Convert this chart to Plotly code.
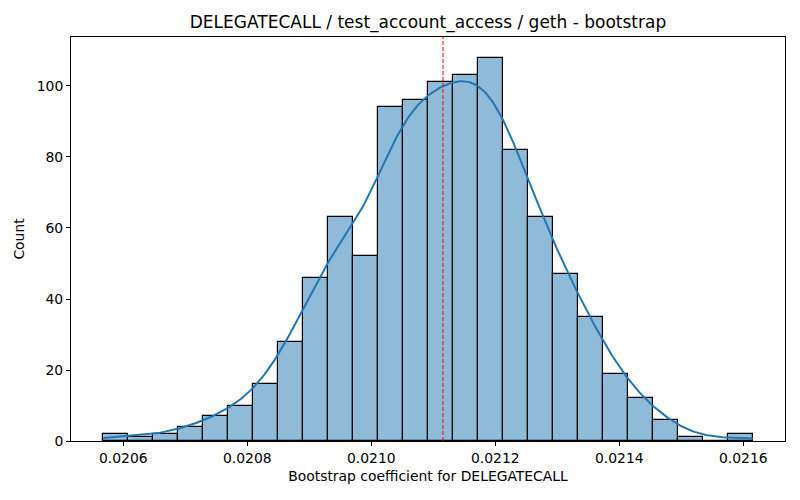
import numpy as np
import plotly.graph_objects as go

# Histogram data
bin_start = 0.0205677
bin_end = 0.0216161
counts = [2, 1, 2, 4, 7, 10, 16, 28, 46, 63, 52, 94, 96, 101, 103, 108,
          82, 63, 47, 35, 19, 12, 6, 1, 0, 2]
mean_line = 0.0211156
x_tick_vals = [0.0206, 0.0208, 0.0210, 0.0212, 0.0214, 0.0216]
x_tick_text = ["0.0206", "0.0208", "0.0210", "0.0212", "0.0214", "0.0216"]
y_tick_vals = [0, 20, 40, 60, 80, 100]

nb = len(counts)
edges = np.linspace(bin_start, bin_end, nb + 1)
width = edges[1] - edges[0]
centers = (edges[:-1] + edges[1:]) / 2
w = np.array(counts, dtype=float)
n = w.sum()

# Weighted gaussian KDE (Scott's rule), like seaborn's kde overlay
mu = np.sum(w * centers) / n
var = np.sum(w * (centers - mu) ** 2) / n + width ** 2 / 12
bw = np.sqrt(var) * n ** (-1 / 5)
bw = 1.1 * np.sqrt(bw ** 2 + width ** 2 / 12)
xs = np.linspace(bin_start, bin_end, 400)
dens = np.sum(w[None, :] * np.exp(-0.5 * ((xs[:, None] - centers[None, :]) / bw) ** 2), axis=1) / (n * bw * np.sqrt(2 * np.pi))
ys = dens * n * width

fig = go.Figure()
fig.add_trace(go.Bar(
    x=centers, y=counts, width=width,
    marker=dict(color="rgba(31,119,180,0.5)", line=dict(color="black", width=1.2)),
    showlegend=False, hoverinfo="skip",
))
fig.add_trace(go.Scatter(
    x=xs, y=ys, mode="lines", line=dict(color="#1f77b4", width=2),
    showlegend=False, hoverinfo="skip",
))
fig.add_shape(type="line", x0=mean_line, x1=mean_line, y0=0, y1=1, yref="paper",
              line=dict(color="red", width=1, dash="4px,2px"))

fig.update_layout(
    width=792, height=492,
    margin=dict(l=63, r=15, t=29, b=59, autoexpand=False),
    plot_bgcolor="white", paper_bgcolor="white",
    font=dict(family="DejaVu Sans", size=14, color="black"),
    title=dict(text="DELEGATECALL / test_account_access / geth - bootstrap",
               x=0.5, xanchor="center", xref="paper", y=0.9715, yanchor="middle",
               font=dict(size=17, color="black")),
    bargap=0,
    xaxis=dict(
        range=[0.0205156, 0.0216673], tickvals=x_tick_vals, ticktext=x_tick_text,
        showline=True, linecolor="black", linewidth=1, mirror=True, automargin=False,
        ticks="outside", ticklen=4, tickcolor="black", showgrid=False, zeroline=False,
        title=dict(text="Bootstrap coefficient for DELEGATECALL", standoff=6, font=dict(size=13.9)),
        tickfont=dict(size=13.9),
    ),
    yaxis=dict(
        range=[0, 113.8], tickvals=y_tick_vals,
        showline=True, linecolor="black", linewidth=1, mirror=True, automargin=False,
        ticks="outside", ticklen=4, tickcolor="black", showgrid=False, zeroline=False,
        title=dict(text="Count", standoff=8, font=dict(size=13.9)),
        tickfont=dict(size=13.9),
    ),
)

fig.write_html("out.html")
